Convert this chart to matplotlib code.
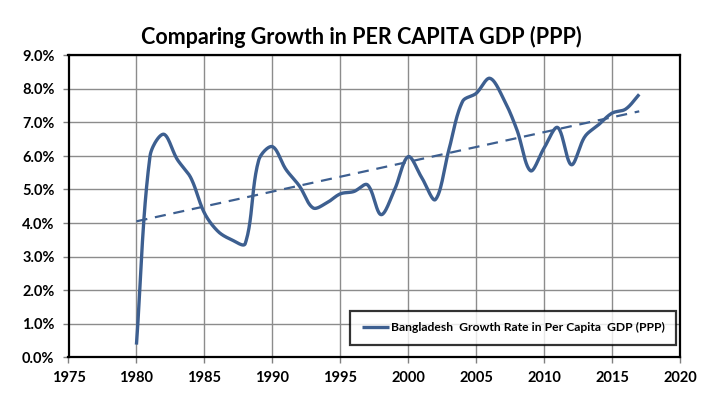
import numpy as np
import matplotlib
matplotlib.use("Agg")
import matplotlib.pyplot as plt
from matplotlib.ticker import FuncFormatter, MultipleLocator

years = list(range(1980, 2018))
growth = [0.37, 6.0, 6.65, 5.9, 5.35, 4.3, 3.75, 3.5, 3.38, 5.88,
          6.28, 5.6, 5.1, 4.45, 4.6, 4.87, 4.94, 5.14, 4.25, 5.0,
          5.98, 5.35, 4.7, 6.2, 7.63, 7.87, 8.32, 7.72, 6.78, 5.56,
          6.24, 6.85, 5.74, 6.58, 6.93, 7.28, 7.4, 7.84]

title = "Comparing Growth in PER CAPITA GDP (PPP)"
legend_label = "Bangladesh  Growth Rate in Per Capita  GDP (PPP)"
line_color = "#3D5F90"

# pixel scale used only to shape the smooth curve in screen space
XS, YS = 13.58, 33.6


def smooth_bezier(x, y, n=24, f=1.0 / 3.0):
    P = np.column_stack([np.asarray(x, float) * XS, np.asarray(y, float) * YS])
    Q = np.vstack([P[0], P, P[-1]])
    t = np.linspace(0, 1, n, endpoint=False)[:, None]
    out = []
    for i in range(1, len(Q) - 2):
        p0, p1, p2, p3 = Q[i - 1], Q[i], Q[i + 1], Q[i + 2]
        d01 = np.linalg.norm(p1 - p0)
        d12 = np.linalg.norm(p2 - p1)
        d23 = np.linalg.norm(p3 - p2)
        r1 = d12 / (d01 + d12) if d01 + d12 > 0 else 0
        r2 = d12 / (d12 + d23) if d12 + d23 > 0 else 0
        c1 = p1 + (p2 - p0) * f * r1
        c2 = p2 - (p3 - p1) * f * r2
        b = (1 - t) ** 3 * p1 + 3 * (1 - t) ** 2 * t * c1 + 3 * (1 - t) * t ** 2 * c2 + t ** 3 * p2
        out.append(b)
    out.append(P[-1][None, :])
    out = np.vstack(out)
    return out[:, 0] / XS, out[:, 1] / YS


plt.rcParams['font.family'] = ['Lato', 'DejaVu Sans']
fig = plt.figure(figsize=(7.22, 4.11), dpi=100)
ax = fig.add_axes([68.5 / 722, 1 - 357 / 411, (680 - 68.5) / 722, (357 - 55.5) / 411])

sx, sy = smooth_bezier(years, growth)
ax.plot(sx, sy, color=line_color, lw=2.4, solid_capstyle='butt', solid_joinstyle='round',
        label=legend_label, zorder=3)

coef = np.polyfit(years, growth, 1)
tx = np.array([years[0], years[-1]])
ax.plot(tx, np.polyval(coef, tx), color=line_color, lw=1.6, ls=(0, (5, 3.5)), zorder=3)

ax.set_xlim(1975, 2020)
ax.set_ylim(0, 9)
ax.xaxis.set_major_locator(MultipleLocator(5))
ax.yaxis.set_major_locator(MultipleLocator(1))
ax.yaxis.set_major_formatter(FuncFormatter(lambda v, p: f"{v:.1f}%"))
ax.grid(True, color="#8c8c8c", lw=1.0)
ax.set_axisbelow(True)
for s in ax.spines.values():
    s.set_color("black")
    s.set_linewidth(1.6)
ax.tick_params(axis='both', direction='out', length=4, width=1, color='#808080', labelsize=10.5, pad=6)
for lab in ax.get_xticklabels() + ax.get_yticklabels():
    lab.set_fontweight('bold')

fig.text(0.5, 1 - 37 / 411, title, ha='center', va='center', fontsize=15.5, fontweight='bold')

leg = ax.legend(loc='lower right', bbox_to_anchor=(0.9935, 0.04), frameon=True, fancybox=False,
                edgecolor='black', fontsize=8.7, handlelength=2.3, handletextpad=0.1,
                borderpad=0.95, borderaxespad=0)
leg.get_frame().set_linewidth(1.6)
for t in leg.get_texts():
    t.set_fontweight('bold')

fig.savefig("out.png", dpi=100)
